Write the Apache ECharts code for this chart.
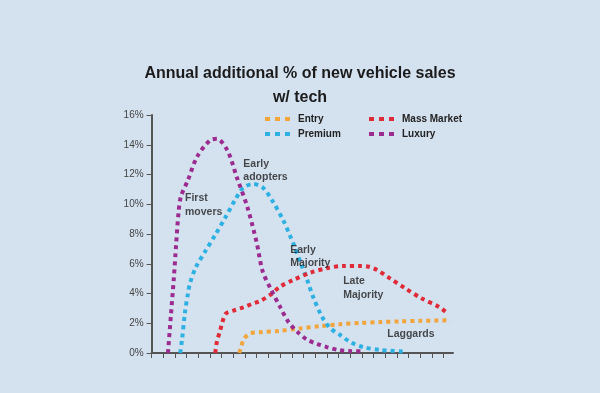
<!DOCTYPE html>
<html>
<head>
<meta charset="utf-8">
<script src="https://cdn.jsdelivr.net/npm/echarts@6/dist/echarts.min.js"></script>
<style>
html,body{margin:0;padding:0;background:#d4e1ef;}
#chart{width:600px;height:393px;}
</style>
</head>
<body>
<div id="chart"></div>
<script>
// Data (x = year step on the x axis, y = % of new vehicle sales)
const entry = [[7.5,0],[7.7,0.5],[7.9,0.95],[8.4,1.3],[9.3,1.4],[10.9,1.48],[12.7,1.65],[14.4,1.8],[16.1,1.93],[17.9,2.02],[19.6,2.08],[21.3,2.13],[23.0,2.16],[25.6,2.2]];
const premium = [[2.45,0],[2.6,0.87],[2.86,2.76],[3.12,4.03],[3.29,4.7],[3.8,5.78],[4.66,6.92],[5.44,7.93],[6.29,9.08],[7.15,10.29],[7.83,11.1],[8.69,11.36],[9.55,11.1],[10.4,10.15],[11.26,8.94],[11.86,7.87],[12.12,7.39],[12.9,5.78],[13.32,4.91],[13.83,3.76],[14.6,2.42],[15.28,1.68],[16.14,1.21],[17.0,0.74],[18.1,0.4],[19.6,0.2],[21.6,0.1]];
const massMarket = [[5.45,0],[5.6,0.8],[5.85,1.45],[6.05,2.05],[6.35,2.65],[7.0,2.85],[7.85,3.07],[8.6,3.3],[9.3,3.5],[10.15,3.9],[11.0,4.46],[12.1,4.9],[13.6,5.4],[15.0,5.7],[16.4,5.85],[17.9,5.85],[18.6,5.8],[19.3,5.58],[20.4,5.02],[21.7,4.35],[23.1,3.68],[24.6,3.1],[25.15,2.78]];
const luxury = [[1.4,0],[1.65,2.5],[1.9,5.0],[2.1,7.3],[2.3,9.4],[2.5,10.5],[3.1,11.6],[3.9,13.2],[5.0,14.3],[5.6,14.4],[6.5,13.6],[7.3,11.8],[8.2,9.8],[9.0,7.4],[9.5,5.5],[10.2,4.3],[11.0,3.1],[11.7,2.1],[12.5,1.4],[13.3,0.9],[14.2,0.6],[15.0,0.4],[16.0,0.2],[17.0,0.13],[17.9,0.12]];
const seriesNames = ['Entry','Premium','Mass Market','Luxury'];
const yTicks = [0,2,4,6,8,10,12,14,16];
const xTicks = [0,1,2,3,4,5,6,7,8,9,10,11,12,13,14,15,16,17,18,19,20,21,22,23,24,25];
const annotations = [
  {text:'First\nmovers', x:2.86, y:9.95},
  {text:'Early\nadopters', x:7.85, y:12.27},
  {text:'Early\nMajority', x:11.86, y:6.49},
  {text:'Late\nMajority', x:16.4, y:4.37},
  {text:'Laggards', x:20.17, y:1.28}
];

const colors = {'Entry':'#f1a53c','Premium':'#2db1e2','Mass Market':'#e02a37','Luxury':'#9b2b8f'};
const dataByName = {'Entry':entry,'Premium':premium,'Mass Market':massMarket,'Luxury':luxury};

const chart = echarts.init(document.getElementById('chart'), null, {renderer:'canvas'});
const lineSeries = seriesNames.map(n => ({
  name:n, type:'line', data:dataByName[n], symbol:'none', smooth:0.3,
  color:colors[n],
  itemStyle:{color:colors[n]},
  lineStyle:{color:colors[n], width:4, type:[4,4], cap:'butt'},
  z:2
}));
const dashIcon = 'path://M0,0h5v4h-5z M10,0h5v4h-5z M20,0h5v4h-5z';
const legendCommon = {
  orient:'vertical', itemWidth:25, itemHeight:4, itemGap:5, padding:0,
  icon:dashIcon,
  textStyle:{fontFamily:'Liberation Sans', fontSize:10, fontWeight:'bold', color:'#222', padding:[0,0,0,3]}
};
chart.setOption({
  backgroundColor:'#d4e1ef',
  animation:false,
  title:{
    text:'Annual additional % of new vehicle sales\nw/ tech',
    left:'center', top:57,
    textStyle:{fontFamily:'Liberation Sans', fontSize:16, fontWeight:'bold', color:'#1b1b1b', lineHeight:24}
  },
  legend:[
    Object.assign({}, legendCommon, {data:['Entry','Premium'], left:265, top:114}),
    Object.assign({}, legendCommon, {data:['Mass Market','Luxury'], left:369, top:114})
  ],
  grid:{left:151.6, right:147, top:115, bottom:40},
  xAxis:{
    type:'value', min:0, max:25.8, interval:1,
    axisLine:{show:true, onZero:false, lineStyle:{color:'#555', width:2}},
    axisTick:{show:true, length:5, inside:false, customValues:xTicks, lineStyle:{color:'#555', width:1}},
    axisLabel:{show:false},
    splitLine:{show:false}
  },
  yAxis:{
    type:'value', min:0, max:16, interval:2,
    axisLine:{show:true, lineStyle:{color:'#555', width:2}},
    axisTick:{show:true, length:5, customValues:yTicks, lineStyle:{color:'#555', width:1}},
    axisLabel:{customValues:yTicks, formatter:'{value}%', fontFamily:'Liberation Sans', fontSize:10, color:'#444', margin:8},
    splitLine:{show:false}
  },
  series:lineSeries.concat([{
    name:'annotations', type:'scatter', symbolSize:0, silent:true,
    data:annotations.map(a => ({value:[a.x, a.y], name:a.text})),
    label:{show:true, position:[0,0], align:'left', verticalAlign:'middle',
      formatter:p => p.name, fontFamily:'Liberation Sans', fontSize:10.5, fontWeight:'bold', color:'#1e1e1e', lineHeight:13.5},
    z:5
  }])
});
</script>
</body>
</html>
